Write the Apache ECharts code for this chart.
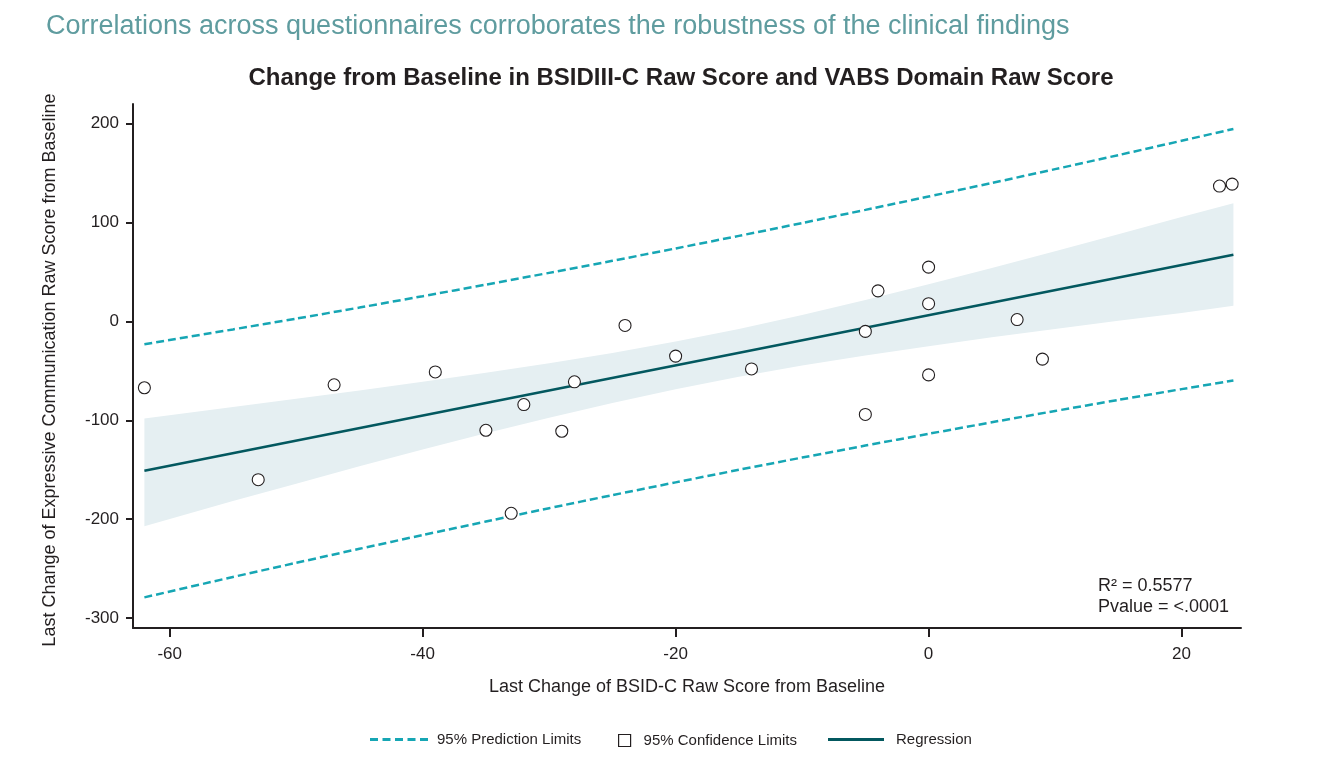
<!DOCTYPE html>
<html>
<head>
<meta charset="utf-8">
<script src="https://cdn.jsdelivr.net/npm/echarts@6/dist/echarts.min.js"></script>
<style>
html,body{margin:0;padding:0;background:#fff;}
#chart{width:1331px;height:762px;}
</style>
</head>
<body>
<div id="chart"></div>
<script>
// ---- Data ----
const pointX = [-62, -53, -47, -39, -35, -33, -32, -29, -28, -24, -20, -14, -5, -5, -4, 0, 0, 0, 7, 9, 23, 24];
const pointY = [-67, -160, -64, -51, -110, -194, -84, -111, -61, -4, -35, -48, -10, -94, 31, 55, 18, -54, 2, -38, 137, 139];

const regX = [-62, 24.1];
const regY = [-151.0, 67.6];

const bandX = [-62, -55, -50, -45, -40, -35, -30, -25, -20, -15, -10, -5, 0, 5, 10, 15, 20, 24.1];
const ciUpper = [-98.0, -86.5, -78.2, -69.8, -61.0, -51.9, -42.3, -31.9, -20.3, -7.5, 6.6, 21.7, 37.7, 54.2, 71.1, 88.3, 105.8, 119.5];
const ciLower = [-207.0, -181.5, -164.0, -146.5, -129.5, -113.1, -97.3, -82.3, -68.5, -55.9, -44.6, -34.3, -24.9, -16.0, -7.5, 0.7, 8.6, 16.0];
const piUpper = [-23.0, -8.0, 2.9, 14.1, 25.6, 37.3, 49.2, 61.4, 73.9, 86.6, 99.6, 112.9, 126.4, 140.1, 154.1, 168.3, 182.8, 194.8];
const piLower = [-279.0, -258.4, -244.1, -229.9, -216.0, -202.3, -188.8, -175.6, -162.7, -150.0, -137.6, -125.5, -113.6, -101.9, -90.5, -79.3, -68.4, -59.6];

const xTicks = [-60, -40, -20, 0, 20];
const yTicks = [-300, -200, -100, 0, 100, 200];

const heading = 'Correlations across questionnaires corroborates the robustness of the clinical findings';
const chartTitle = 'Change from Baseline in BSIDIII-C Raw Score and VABS Domain Raw Score';
const xName = 'Last Change of BSID-C Raw Score from Baseline';
const yName = 'Last Change of Expressive Communication Raw Score from Baseline';
const statLines = ['R\u00B2 = 0.5577', 'Pvalue = <.0001'];

// ---- Styling ----
const FONT = '"Liberation Sans", Arial, Helvetica, sans-serif';
const INK = '#231f20';
const PRED = '#16a6b4';
const REG = '#03585f';
const BAND = '#e5eff2';

const zip = (a, b) => a.map((v, i) => [v, b[i]]);

const dashIcon = 'path://M0,0h8v3h-8z M12.5,0h8v3h-8z M25,0h8v3h-8z M37.5,0h8v3h-8z M50,0h8v3h-8z';
const solidIcon = 'path://M0,0h56v3h-56z';

const chart = echarts.init(document.getElementById('chart'), null, {renderer: 'canvas'});

const option = {
  animation: false,
  textStyle: {fontFamily: FONT},
  title: [
    {text: heading, left: 46, top: 13, padding: 0,
     textStyle: {fontFamily: FONT, fontSize: 27, fontWeight: 'normal', color: '#5f9c9f'}},
    {text: chartTitle, left: 681, top: 66, textAlign: 'center', padding: 0,
     textStyle: {fontFamily: FONT, fontSize: 24, fontWeight: 'bold', color: INK}}
  ],
  grid: {left: 133, right: 90, top: 104, bottom: 134, containLabel: false},
  xAxis: {
    type: 'value', min: -62.9, max: 24.7,
    name: xName, nameLocation: 'middle', nameGap: 50,
    nameTextStyle: {fontFamily: FONT, fontSize: 18, color: INK},
    axisLine: {show: true, onZero: false, lineStyle: {color: INK, width: 2}},
    axisTick: {show: true, customValues: xTicks, length: 9, lineStyle: {color: INK, width: 2}},
    axisLabel: {customValues: xTicks, fontSize: 17, color: INK, margin: 18, fontFamily: FONT},
    splitLine: {show: false}
  },
  yAxis: {
    type: 'value', min: -310, max: 220,
    name: yName, nameLocation: 'middle', nameGap: 74,
    nameTextStyle: {fontFamily: FONT, fontSize: 18, color: INK, padding: [0, 8, 0, 0]},
    axisLine: {show: true, onZero: false, lineStyle: {color: INK, width: 2}},
    axisTick: {show: true, customValues: yTicks, length: 7, lineStyle: {color: INK, width: 2}},
    axisLabel: {customValues: yTicks, fontSize: 17, color: INK, margin: 14, fontFamily: FONT},
    splitLine: {show: false}
  },
  legend: [
    {data: [{name: '95% Prediction Limits', icon: dashIcon, itemStyle: {color: PRED}}],
     left: 370, top: 732, padding: 0, itemWidth: 58, itemHeight: 3,
     textStyle: {fontFamily: FONT, fontSize: 15, color: INK, padding: [0, 0, 0, 4]}},
    {data: [{name: '95% Confidence Limits', icon: 'rect',
             itemStyle: {color: '#ffffff', borderColor: INK, borderWidth: 1.2}}],
     left: 618, top: 733, padding: 0, itemWidth: 12, itemHeight: 12,
     textStyle: {fontFamily: FONT, fontSize: 15, color: INK, padding: [0, 0, 0, 8]}},
    {data: [{name: 'Regression', icon: solidIcon, itemStyle: {color: REG}}],
     left: 828, top: 732, padding: 0, itemWidth: 56, itemHeight: 3,
     textStyle: {fontFamily: FONT, fontSize: 15, color: INK, padding: [0, 0, 0, 7]}}
  ],
  graphic: [
    {type: 'text', left: 1098, top: 577,
     style: {text: statLines[0], font: '18px ' + FONT, fill: INK}},
    {type: 'text', left: 1098, top: 598,
     style: {text: statLines[1], font: '18px ' + FONT, fill: INK}}
  ],
  series: [
    {
      name: '95% Confidence Limits', type: 'custom', z: 1,
      itemStyle: {color: BAND},
      data: bandX.map((x, i) => [x, ciUpper[i], ciLower[i]]),
      encode: {x: 0, y: [1, 2]},
      renderItem: function (params, api) {
        if (params.dataIndex !== 0) return null;
        const pts = [];
        for (let i = 0; i < bandX.length; i++) pts.push(api.coord([bandX[i], ciUpper[i]]));
        for (let i = bandX.length - 1; i >= 0; i--) pts.push(api.coord([bandX[i], ciLower[i]]));
        return {type: 'polygon', shape: {points: pts}, style: {fill: BAND}};
      }
    },
    {
      name: '95% Prediction Limits', type: 'line', z: 3, symbol: 'none', smooth: 0.2,
      data: zip(bandX, piUpper),
      lineStyle: {color: PRED, width: 2.5, type: [8, 4]},
      itemStyle: {color: PRED}
    },
    {
      name: '95% Prediction Limits', type: 'line', z: 3, symbol: 'none', smooth: 0.2,
      data: zip(bandX, piLower),
      lineStyle: {color: PRED, width: 2.5, type: [8, 4]},
      itemStyle: {color: PRED}
    },
    {
      name: 'Regression', type: 'line', z: 4, symbol: 'none',
      data: zip(regX, regY),
      lineStyle: {color: REG, width: 2.6},
      itemStyle: {color: REG}
    },
    {
      name: 'Observed', type: 'scatter', z: 5, symbol: 'circle', symbolSize: 12,
      data: zip(pointX, pointY),
      itemStyle: {color: '#ffffff', borderColor: INK, borderWidth: 1.1, opacity: 1}
    }
  ]
};

chart.setOption(option);
</script>
</body>
</html>
